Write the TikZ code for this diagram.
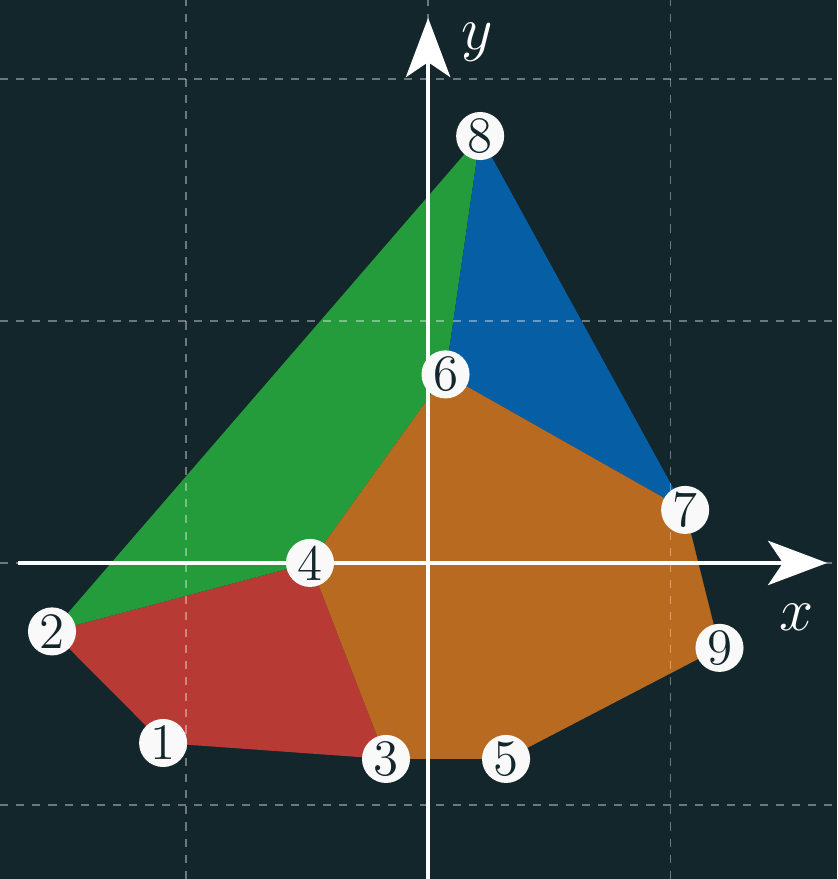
\documentclass[tikz,border=0pt]{standalone}
\usetikzlibrary{arrows.meta}
\definecolor{bgc}{HTML}{13262B}
\definecolor{cred}{HTML}{B73A34}
\definecolor{cgreen}{HTML}{259C3B}
\definecolor{cblue}{HTML}{065EA4}
\definecolor{corange}{HTML}{B96A21}
\definecolor{nodefill}{HTML}{F9F9F9}
\tikzset{
  vtx/.style={circle, fill=nodefill, text=bgc, minimum size=11.3pt, inner sep=0pt, font=\fontsize{12}{14}\selectfont},
  gridline/.style={white, opacity=0.38, line width=0.3pt, dash pattern=on 1.9pt off 1.9pt},
  axis/.style={white, line width=1pt, -{Stealth[length=13.9pt, width=10.4pt, inset=3.5pt]}},
  axlabel/.style={white, font=\fontsize{14.4}{16}\selectfont}
}
\begin{document}
\begin{tikzpicture}[x=2cm, y=2cm]
\fill[bgc] (-1.769,-1.306) rectangle (1.690,2.326);
\useasboundingbox (-1.769,-1.306) rectangle (1.690,2.326);
% vertex positions
\coordinate (p1) at (-1.095,-0.744);
\coordinate (p2) at (-1.554,-0.283);
\coordinate (p3) at (-0.174,-0.810);
\coordinate (p4) at (-0.488,0.000);
\coordinate (p5) at (0.322,-0.810);
\coordinate (p6) at (0.072,0.779);
\coordinate (p7) at (1.062,0.219);
\coordinate (p8) at (0.215,1.764);
\coordinate (p9) at (1.204,-0.351);
% faces
\fill[cred] (p2) -- (p4) -- (p3) -- (p1) -- cycle;
\fill[cgreen] (p2) -- (p8) -- (p6) -- (p4) -- cycle;
\fill[cblue] (p8) -- (p7) -- (p6) -- cycle;
\fill[corange] (p4) -- (p6) -- (p7) -- (p9) -- (p5) -- (p3) -- cycle;
% grid
\foreach \gx in {-1,0,1} \draw[gridline] (\gx,-1.306) -- (\gx,2.326);
\foreach \gy in {-1,0,1,2} \draw[gridline] (-1.769,\gy) -- (1.690,\gy);
% axes
\coordinate (xs) at (-1.694,0);
\coordinate (xe) at (1.649,0);
\coordinate (ys) at (0,-1.31);
\coordinate (ye) at (0,2.252);
\draw[axis] (xs) -- (xe);
\draw[axis] (ys) -- (ye);
\node[axlabel] (xl) at (1.521,-0.223) {$x$};
\node[axlabel] (yl) at (0.202,2.153) {$y$};
% vertices
\node[vtx] (n1) at (p1) {1};
\node[vtx] (n2) at (p2) {2};
\node[vtx] (n3) at (p3) {3};
\node[vtx] (n4) at (p4) {4};
\node[vtx] (n5) at (p5) {5};
\node[vtx] (n6) at (p6) {6};
\node[vtx] (n7) at (p7) {7};
\node[vtx] (n8) at (p8) {8};
\node[vtx] (n9) at (p9) {9};
\end{tikzpicture}
\end{document}
